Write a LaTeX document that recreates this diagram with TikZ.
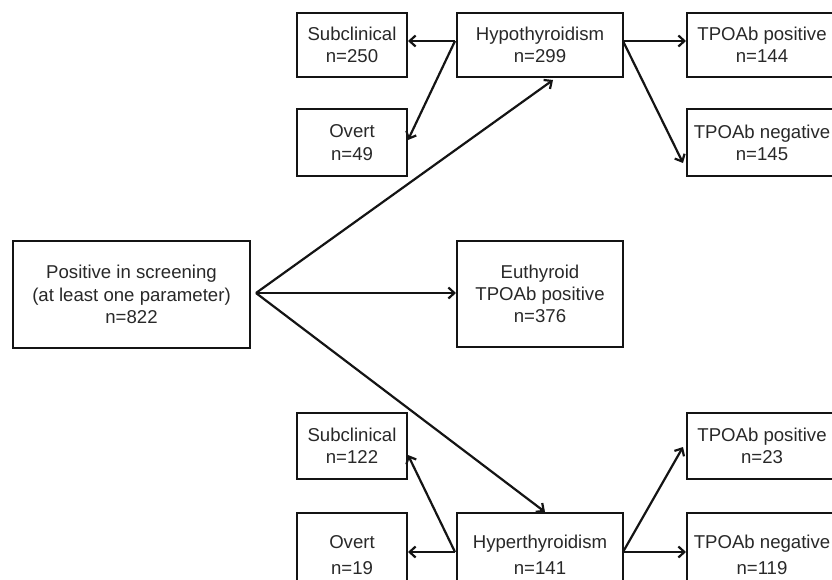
\documentclass[tikz,border=0pt]{standalone}
\usepackage{fontspec}
\setmainfont{Liberation Sans}
\usetikzlibrary{arrows.meta,calc}
\definecolor{ln}{RGB}{20,20,20}
\definecolor{tx}{RGB}{40,40,40}
\begin{document}
\begin{tikzpicture}[x=1pt,y=-1pt,
  box/.style={draw=ln, line width=2pt, text=tx, align=center,
    font=\fontsize{18.6}{22.3}\selectfont, inner sep=0pt},
  arr/.style={draw=ln, line width=2.2pt, -{Straight Barb[length=6pt,width=11pt]}}]
\useasboundingbox (0,0) rectangle (832,579);
\clip (0,0) rectangle (832,579);
% top group
\node[box, minimum width=110pt, minimum height=64pt] (sub1) at (352,45) {Subclinical\\n=250};
\node[box, minimum width=110pt, minimum height=67pt] (ov1) at (352,142.5) {Overt\\n=49};
\node[box, minimum width=166pt, minimum height=64pt] (hypo) at (540,45) {Hypothyroidism\\n=299};
\node[box, minimum width=150pt, minimum height=64pt] (tpos1) at (762,45) {TPOAb positive\\n=144};
\node[box, minimum width=150pt, minimum height=67pt] (tneg1) at (762,142.5) {TPOAb negative\\n=145};
% middle
\node[box, minimum width=237pt, minimum height=107pt] (pos) at (131.5,294.5) {Positive in screening\\(at least one parameter)\\n=822};
\node[box, minimum width=166pt, minimum height=106pt] (eu) at (540,294) {Euthyroid\\TPOAb positive\\n=376};
% bottom group
\node[box, minimum width=110pt, minimum height=66pt] (sub2) at (352,446) {Subclinical\\n=122};
\node[box, minimum width=110pt, minimum height=84pt] (ov2) at (352,555) {Overt\\[3.5pt]n=19};
\node[box, minimum width=166pt, minimum height=84pt] (hyper) at (540,555) {Hyperthyroidism\\[3.5pt]n=141};
\node[box, minimum width=150pt, minimum height=66pt] (tpos2) at (762,446) {TPOAb positive\\n=23};
\node[box, minimum width=150pt, minimum height=84pt] (tneg2) at (762,555) {TPOAb negative\\[3.5pt]n=119};
% junctions
\coordinate (j1) at (455,41);
\coordinate (j2) at (623,41);
\coordinate (src) at (256,293);
\coordinate (j3) at (455,552);
\coordinate (j4) at (623,552);
% connectors
\draw[arr] (j1) -- (sub1.east |- j1);
\draw[arr] (j1) -- ([yshift=2.5pt]ov1.east);
\draw[arr] (j2) -- (tpos1.west |- j2);
\draw[arr] (j2) -- ([yshift=-20.5pt,xshift=-3pt]tneg1.west);
\draw[arr] (src) -- ([xshift=13pt,yshift=-2pt]hypo.south);
\draw[arr] (src) -- (eu.west |- src);
\draw[arr] (src) -- ([xshift=5pt]hyper.north);
\draw[arr] (j3) -- (ov2.east |- j3);
\draw[arr] (j3) -- ([yshift=-9pt]sub2.east);
\draw[arr] (j4) -- (tneg2.west |- j4);
\draw[arr] (j4) -- ([yshift=-1pt,xshift=-3pt]tpos2.west);
\end{tikzpicture}
\end{document}
